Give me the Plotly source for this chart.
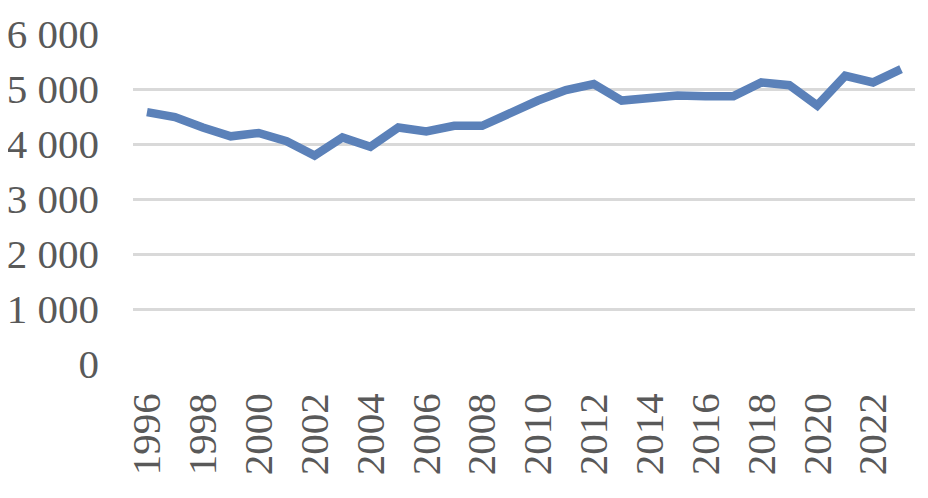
import plotly.graph_objects as go

years = list(range(1996, 2024))
values = [4580, 4490, 4300, 4140, 4200, 4050, 3790, 4120, 3950, 4300,
          4230, 4330, 4330, 4570, 4790, 4980, 5090, 4790, 4830, 4880,
          4870, 4870, 5120, 5070, 4700, 5240, 5120, 5360]
y_ticks = [0, 1000, 2000, 3000, 4000, 5000, 6000]
y_tick_text = ["0", "1 000", "2 000", "3 000", "4 000", "5 000", "6 000"]
x_ticks = list(range(1996, 2024, 2))

fig = go.Figure()
fig.add_trace(go.Scatter(
    x=years, y=values, mode="lines",
    line=dict(color="#5B81B9", width=8.5),
    hoverinfo="skip", showlegend=False,
))

font = dict(family="Liberation Serif", size=41, color="#595959")
fig.update_layout(
    width=928, height=498,
    margin=dict(l=125, r=21, t=26, b=142),
    paper_bgcolor="white", plot_bgcolor="white",
    font=font,
    xaxis=dict(
        range=[1995.5, 2023.5], tickmode="array", tickvals=x_ticks,
        ticktext=[str(v) for v in x_ticks], tickangle=-90,
        showgrid=False, zeroline=False, showline=False,
        ticks="", ticklabelstandoff=20, tickfont=font, automargin=False,
    ),
    yaxis=dict(
        range=[0, 6000], tickmode="array", tickvals=y_ticks,
        ticktext=y_tick_text, showgrid=True, gridcolor="#D9D9D9",
        gridwidth=3, zeroline=False, showline=False, ticks="",
        ticklabelstandoff=33, tickfont=font, automargin=False,
    ),
)
fig.write_html("out.html")
